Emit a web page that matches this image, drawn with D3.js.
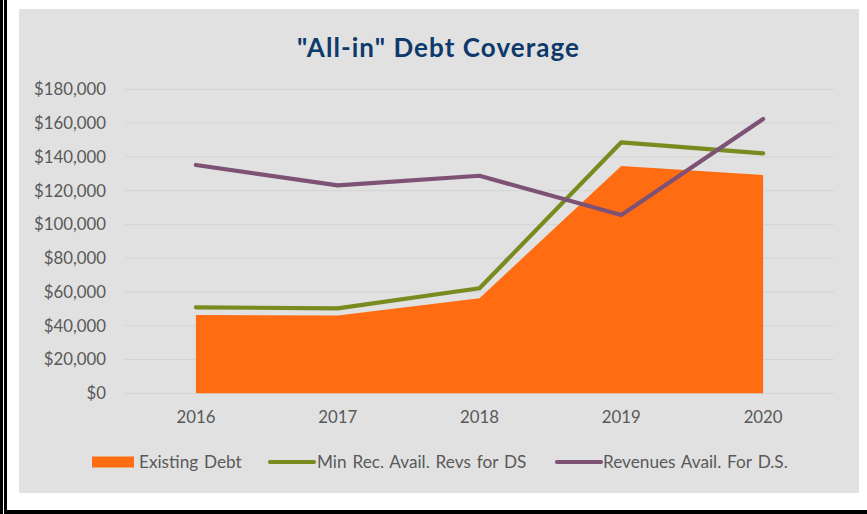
<!DOCTYPE html>
<html>
<head>
<meta charset="utf-8">
<script src="https://cdn.jsdelivr.net/npm/d3@7"></script>
<style>
  html, body { margin: 0; padding: 0; background: #ffffff; }
  svg { display: block; }
</style>
</head>
<body>
<svg id="chart" width="867" height="514"></svg>
<script>
const years = ["2016", "2017", "2018", "2019", "2020"];
const existingDebt = [46400, 46000, 56300, 134600, 129300];
const minRecAvail = [50900, 50300, 62200, 148600, 142100];
const revenuesAvail = [135200, 123100, 128800, 105600, 162400];
const yTicks = [0, 20000, 40000, 60000, 80000, 100000, 120000, 140000, 160000, 180000];
const seriesNames = ["Existing Debt", "Min Rec. Avail. Revs for DS", "Revenues Avail. For D.S."];
const seriesColors = ["#FF6C12", "#788B1F", "#7E5275"];

(function () {
const svg = d3.select("#chart");
const W = 867, H = 514;
const FONT = "Lato, 'Open Sans', sans-serif";
const FS = 16.8;

// page frame
svg.append("rect").attr("x", 19).attr("y", 9).attr("width", 840).attr("height", 484).attr("fill", "#E1E1E1");
svg.append("rect").attr("x", 0).attr("y", 0).attr("width", 3).attr("height", H).attr("fill", "#000");
svg.append("rect").attr("x", 4).attr("y", 0).attr("width", 3).attr("height", 513).attr("fill", "#000");
svg.append("rect").attr("x", 4).attr("y", 510).attr("width", W - 4).attr("height", 4).attr("fill", "#000");

const pLeft = 125, pRight = 834, pTop = 89.3, pBottom = 393.3;
const x = d3.scaleBand().domain(years).range([pLeft, pRight]);
const y = d3.scaleLinear().domain([0, 180000]).range([pBottom, pTop]);
const cx = d => x(d) + x.bandwidth() / 2;

// title
svg.append("text")
  .attr("x", 438).attr("y", 57)
  .attr("text-anchor", "middle")
  .attr("font-family", FONT)
  .attr("font-weight", "bold")
  .attr("font-size", 26)
  .attr("textLength", 282)
  .attr("lengthAdjust", "spacing")
  .attr("fill", "#0E3A6B")
  .text('"All-in" Debt Coverage');

// gridlines
svg.append("g").selectAll("line").data(yTicks).join("line")
  .attr("x1", pLeft).attr("x2", pRight)
  .attr("y1", d => y(d)).attr("y2", d => y(d))
  .attr("stroke", "#D4D4D4").attr("stroke-width", 1);

// y axis
const yAxis = d3.axisLeft(y).tickValues(yTicks).tickSize(0).tickPadding(0)
  .tickFormat(d => "$" + d3.format(",")(d));
const gy = svg.append("g").attr("transform", `translate(106,0)`).call(yAxis);
gy.select(".domain").remove();
gy.selectAll("text").attr("font-family", FONT).attr("font-size", FS).attr("fill", "#595959");

// x axis
const xAxis = d3.axisBottom(x).tickSize(0).tickPadding(0);
const gx = svg.append("g").attr("transform", `translate(0,${pBottom + 18})`).call(xAxis);
gx.select(".domain").remove();
gx.selectAll("text").attr("font-family", FONT).attr("font-size", FS).attr("fill", "#595959");

// area
const area = d3.area().x((d, i) => cx(years[i])).y0(y(0)).y1(d => y(d));
svg.append("path").datum(existingDebt).attr("d", area).attr("fill", seriesColors[0]);

// lines
const line = d3.line().x((d, i) => cx(years[i])).y(d => y(d));
[minRecAvail, revenuesAvail].forEach((s, k) => {
  svg.append("path").datum(s).attr("d", line)
    .attr("fill", "none").attr("stroke", seriesColors[k + 1])
    .attr("stroke-width", 4.2).attr("stroke-linecap", "round").attr("stroke-linejoin", "round");
});

// legend
const ly = 462;
const legend = svg.append("g");
legend.append("rect").attr("x", 92).attr("y", ly - 5.5).attr("width", 42).attr("height", 11).attr("fill", seriesColors[0]);
legend.append("text").attr("x", 139).attr("y", ly).attr("dy", "0.35em").text(seriesNames[0]);
legend.append("line").attr("x1", 270).attr("x2", 314).attr("y1", ly).attr("y2", ly)
  .attr("stroke", seriesColors[1]).attr("stroke-width", 4.2).attr("stroke-linecap", "round");
legend.append("text").attr("x", 317).attr("y", ly).attr("dy", "0.35em").text(seriesNames[1]);
legend.append("line").attr("x1", 557).attr("x2", 601).attr("y1", ly).attr("y2", ly)
  .attr("stroke", seriesColors[2]).attr("stroke-width", 4.2).attr("stroke-linecap", "round");
legend.append("text").attr("x", 603).attr("y", ly).attr("dy", "0.35em").text(seriesNames[2]);
legend.selectAll("text").attr("font-family", FONT).attr("font-size", 17.2)
  .attr("word-spacing", 1.5).attr("fill", "#595959");
})();
</script>
</body>
</html>
